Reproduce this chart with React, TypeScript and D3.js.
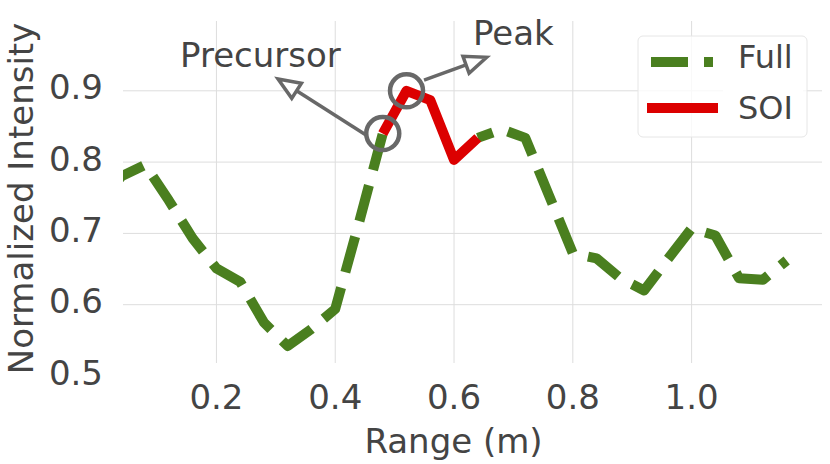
import React from "react";
import * as d3 from "d3";

// range (m) and normalized intensity
const rangeM = [0.0, 0.04, 0.08, 0.12, 0.16, 0.2, 0.24, 0.28, 0.32, 0.36, 0.4, 0.44, 0.48, 0.52, 0.56, 0.6, 0.64, 0.68, 0.72, 0.76, 0.8, 0.84, 0.88, 0.92, 0.96, 1.0, 1.04, 1.08, 1.12, 1.16];
const intensity = [0.74, 0.78, 0.796, 0.746, 0.693, 0.651, 0.632, 0.575, 0.542, 0.566, 0.594, 0.715, 0.84, 0.9, 0.887, 0.803, 0.834, 0.846, 0.834, 0.753, 0.672, 0.665, 0.637, 0.62, 0.664, 0.707, 0.697, 0.637, 0.635, 0.662];
const soiStart = 0.48;
const soiEnd = 0.64;

const xTicks = [0.2, 0.4, 0.6, 0.8, 1.0];
const yTicks = [0.5, 0.6, 0.7, 0.8, 0.9];
const yGrid = [0.6, 0.7, 0.8, 0.9];

const annotations = [
  { label: "Precursor", at: 0.48, textX: 0.1387, textY: 0.933, tailX: 0.4518, tailY: 0.838, tipX: 0.3037, tipY: 0.9166 },
  { label: "Peak", at: 0.52, textX: 0.632, textY: 0.964, tailX: 0.5495, tailY: 0.915, tipX: 0.655, tipY: 0.947 },
];

const legendItems = [
  { label: "Full", color: "#4a7f1f", dashed: true },
  { label: "SOI", color: "#dc0000", dashed: false },
];

const GREEN = "#4a7f1f";
const RED = "#dc0000";
const TEXT = "#444444";
const ANNOT = "#686868";
const GRID = "#dddddd";
const FONT = "DejaVu Sans, sans-serif";
const DASH = 37, GAP = 16;
// where the reference's dashes fall (the green under the SOI is hidden,
// so the two visible parts are phased separately)
const LEFT_DASH_START = 0.194;
const RIGHT_DASH_ENDS = [0.675, 0.992];

const App = () => {
  const width = 830;
  const height = 464;
  const left = 123, right = 822, top = 21, bottom = 363;

  const x = d3.scaleLinear().domain([0.0427, 1.2195]).range([left, right]);
  const y = d3.scaleLinear().domain([0.5, 1.0]).range([376, 19.5]);

  const points: [number, number][] = rangeM.map((r, i) => [r, intensity[i]]);
  const soi = points.filter((p) => p[0] >= soiStart - 1e-9 && p[0] <= soiEnd + 1e-9);
  const fullLeft = points.filter((p) => p[0] <= soiStart + 1e-9);
  const fullRight = points.filter((p) => p[0] >= soiEnd - 1e-9);

  const line = d3
    .line<[number, number]>()
    .x((d) => x(d[0]))
    .y((d) => y(d[1]));

  const lengthTo = (pts: [number, number][], at: number) => {
    let s = 0;
    for (let i = 1; i < pts.length; i++) {
      const [a0, b0] = pts[i - 1];
      const [a1, b1] = pts[i];
      const seg = Math.hypot(x(a1) - x(a0), y(b1) - y(b0));
      if (a1 >= at) return s + (seg * (at - a0)) / (a1 - a0);
      s += seg;
    }
    return s;
  };
  const period = DASH + GAP;
  const mod = (v: number) => ((v % period) + period) % period;
  const leftOffset = mod(-lengthTo(fullLeft, LEFT_DASH_START));
  const [ra, rb] = RIGHT_DASH_ENDS.map((e) => mod(DASH - lengthTo(fullRight, e)));
  const diff = mod(rb - ra + period / 2) - period / 2;
  const rightOffset = mod(ra + diff / 2);

  const arrowHead = (x1: number, y1: number, x2: number, y2: number) => {
    const dx = x2 - x1, dy = y2 - y1;
    const len = Math.hypot(dx, dy);
    const ux = dx / len, uy = dy / len;
    const L = 22, w = 9;
    const bx = x2 - ux * L, by = y2 - uy * L;
    const nx = -uy, ny = ux;
    return {
      base: [bx, by],
      tri: `${x2},${y2} ${bx + nx * w},${by + ny * w} ${bx - nx * w},${by - ny * w}`,
    };
  };

  return (
    <svg
      width={width}
      height={height}
      style={{ position: "absolute", left: 0, top: 0, background: "#fff" }}
      fontFamily={FONT}
    >
      <defs>
        <clipPath id="plot">
          <rect x={left} y={top} width={right - left} height={bottom - top} />
        </clipPath>
      </defs>

      {/* grid */}
      {xTicks.map((t) => (
        <line key={"gx" + t} x1={x(t)} x2={x(t)} y1={top} y2={bottom} stroke={GRID} strokeWidth={1} />
      ))}
      {yGrid.map((t) => (
        <line key={"gy" + t} x1={left} x2={right} y1={y(t)} y2={y(t)} stroke={GRID} strokeWidth={1} />
      ))}

      {/* ticks */}
      {xTicks.map((t) => (
        <text key={"tx" + t} x={x(t)} y={409} textAnchor="middle" fontSize={34} fill={TEXT}>
          {d3.format(".1f")(t)}
        </text>
      ))}
      {yTicks.map((t) => (
        <text key={"ty" + t} x={103} y={y(t) + 8.5} textAnchor="end" fontSize={34} fill={TEXT}>
          {d3.format(".1f")(t)}
        </text>
      ))}

      <text x={453.5} y={453} textAnchor="middle" fontSize={34} fill={TEXT}>
        Range (m)
      </text>
      <text
        transform={`translate(33,${(top + 376) / 2}) rotate(-90)`}
        textAnchor="middle"
        fontSize={34}
        fill={TEXT}
      >
        Normalized Intensity
      </text>

      {/* lines */}
      <g clipPath="url(#plot)">
        {[
          { pts: fullLeft, off: leftOffset },
          { pts: fullRight, off: rightOffset },
        ].map((p, i) => (
          <path
            key={i}
            d={line(p.pts) ?? ""}
            fill="none"
            stroke={GREEN}
            strokeWidth={10}
            strokeDasharray={`${DASH},${GAP}`}
            strokeDashoffset={p.off}
            strokeLinejoin="round"
            strokeLinecap="butt"
          />
        ))}
        <path
          d={line(soi) ?? ""}
          fill="none"
          stroke={RED}
          strokeWidth={10}
          strokeLinejoin="round"
          strokeLinecap="butt"
        />
      </g>

      {/* annotations */}
      {annotations.map((a) => {
        const idx = rangeM.findIndex((r) => Math.abs(r - a.at) < 1e-9);
        const cx = x(rangeM[idx]);
        const cy = y(intensity[idx]);
        const tx = x(a.tailX), ty = y(a.tailY);
        const hx = x(a.tipX), hy = y(a.tipY);
        const head = arrowHead(tx, ty, hx, hy);
        return (
          <g key={a.label}>
            <circle cx={cx} cy={cy} r={16.5} fill="none" stroke={ANNOT} strokeWidth={4.5} />
            <line x1={tx} y1={ty} x2={head.base[0]} y2={head.base[1]} stroke={ANNOT} strokeWidth={3.5} />
            <polygon points={head.tri} fill="#fff" stroke={ANNOT} strokeWidth={3.5} strokeLinejoin="miter" />
            <text x={x(a.textX)} y={y(a.textY)} fontSize={34} fill={TEXT}>
              {a.label}
            </text>
          </g>
        );
      })}

      {/* legend */}
      <g>
        <rect x={638} y={36} width={169} height={101} rx={5} fill="#fff" fillOpacity={0.8} stroke="#e6e6e6" strokeWidth={1} />
        <rect x={723} y={40} width={80} height={93} fill="#fff" />
        {legendItems.map((it, i) => {
          const ly = 62 + i * 46;
          return (
            <g key={it.label}>
              <line
                x1={it.dashed ? 651 : 652}
                x2={713}
                y1={ly}
                y2={ly}
                stroke={it.color}
                strokeWidth={10}
                strokeDasharray={it.dashed ? `${DASH},${GAP}` : undefined}
                strokeLinecap={it.dashed ? "butt" : "square"}
              />
              <text x={738} y={ly + 6 + 5 * i} fontSize={32} fill={TEXT}>
                {it.label}
              </text>
            </g>
          );
        })}
      </g>
    </svg>
  );
};

export default App;
